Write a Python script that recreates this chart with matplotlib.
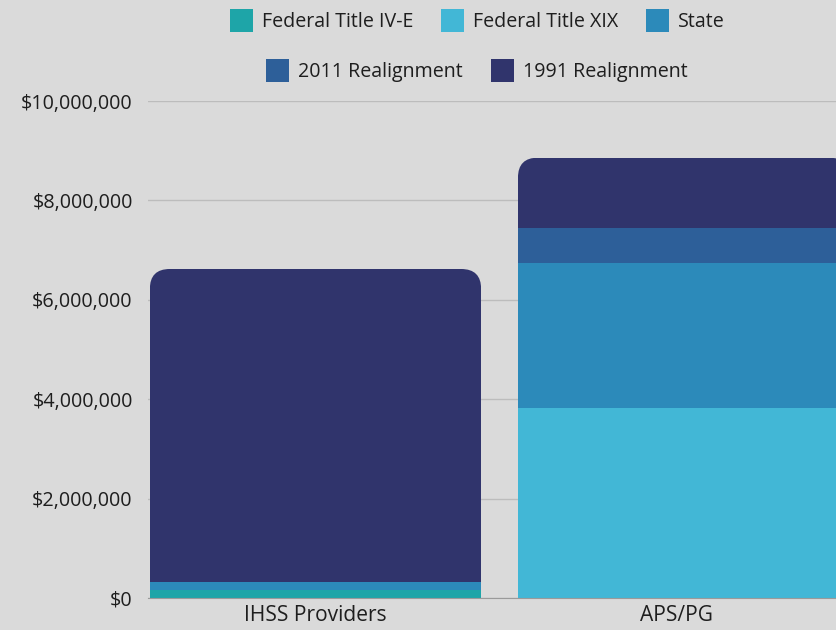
import matplotlib.pyplot as plt
from matplotlib.patches import FancyBboxPatch
from matplotlib.ticker import FuncFormatter

plt.rcParams['font.family'] = ['Open Sans', 'DejaVu Sans']

# data
programs = ['IHSS Providers', 'APS/PG']
series = ['Federal Title IV-E', 'Federal Title XIX', 'State', '2011 Realignment', '1991 Realignment']
title_iv_e = [160000, 0]
title_xix = [0, 3820000]
state = [160000, 2920000]
realign_2011 = [0, 700000]
realign_1991 = [6300000, 1420000]
colors = ['#1ea5a8', '#42b7d6', '#2c8aba', '#2d5f99', '#30346c']

bg = '#dadada'
fig = plt.figure(figsize=(8.36, 6.3), dpi=100, facecolor=bg)
ax = fig.add_axes([148/836, 32/630, 1 - 148/836, 497/630], facecolor=bg)

x = [0, 1]
w = 0.9
ax.set_xlim(-0.455, 1.414)
ax.set_ylim(0, 10000000)

values = [title_iv_e, title_xix, state, realign_2011, realign_1991]
bottoms = [0, 0]
bars = []
for name, vals, c in zip(series, values, colors):
    b = ax.bar(x, vals, w, bottom=bottoms, color=c, label=name, zorder=3, linewidth=0)
    bars.append(b)
    bottoms = [bt + v for bt, v in zip(bottoms, vals)]

# rounded top corners: clip each stack with a rounded box
px_x = ax.transData.transform((1, 0))[0] - ax.transData.transform((0, 0))[0]
px_y = ax.transData.transform((0, 1e6))[1] - ax.transData.transform((0, 0))[1]
r = 20 / px_x
aspect = (20 / px_y * 1e6) / r
for i, total in enumerate(bottoms):
    clip = FancyBboxPatch((x[i] - w/2, -total), w, 2*total,
                          boxstyle=f'round,pad=0,rounding_size={r}',
                          mutation_aspect=aspect, transform=ax.transData,
                          facecolor='none', edgecolor='none')
    for b in bars:
        b[i].set_clip_path(clip)

ax.set_yticks(range(0, 10000001, 2000000))
ax.yaxis.set_major_formatter(FuncFormatter(lambda v, p: f'${int(v):,}'))
ax.grid(axis='y', color='#bcbcbc', linewidth=1, zorder=0)
ax.set_axisbelow(True)
for s in ['top', 'right', 'left']:
    ax.spines[s].set_visible(False)
ax.spines['bottom'].set_color('#9a9a9a')
ax.spines['bottom'].set_zorder(4)

# x tick for the clipped bar sits in the middle of its visible part
x_right = ax.get_xlim()[1]
ax.set_xticks([x[0], (x[1] - w/2 + x_right) / 2])
ax.set_xticklabels(programs)
ax.tick_params(axis='both', length=0, colors='#1e1e1e')
ax.tick_params(axis='y', pad=11, labelsize=14.2)
ax.tick_params(axis='x', pad=5, labelsize=15.1)

handles = [b[0] for b in bars]
leg_kw = dict(frameon=False, fontsize=14.1, handlelength=1.17, handleheight=1.45,
              handletextpad=0.46, columnspacing=1.42, borderaxespad=0, labelcolor='#1e1e1e')
leg1 = fig.legend(handles[:3], series[:3], ncol=3, loc='center',
                  bbox_to_anchor=(477/836, 1 - 20.5/630), **leg_kw)
leg2 = fig.legend(handles[3:], series[3:], ncol=2, loc='center',
                  bbox_to_anchor=(477/836, 1 - 70.5/630), **leg_kw)

plt.savefig('out.png', dpi=100, facecolor=bg)
